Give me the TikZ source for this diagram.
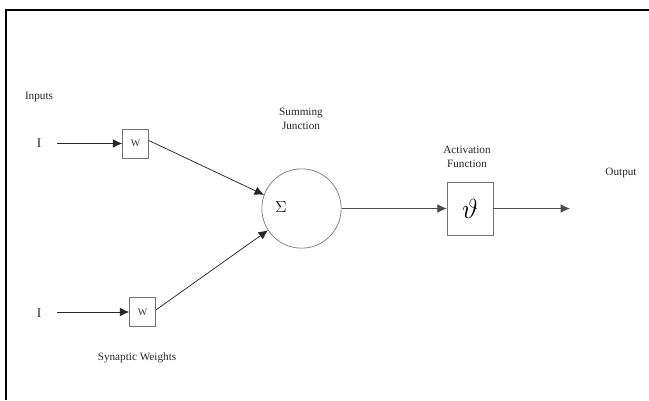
\documentclass[tikz,border=0pt]{standalone}
\usepackage{fontspec}
\setmainfont{Liberation Serif}
\usetikzlibrary{arrows.meta}
\begin{document}
\begin{tikzpicture}[x=0.75pt,y=-0.75pt,
  lbl/.style={font=\fontsize{8.4}{10}\selectfont, text=black!85, inner sep=0pt, align=center},
  wbox/.style={draw=black!55, line width=0.5pt, minimum width=19.5pt, minimum height=22pt, inner sep=0pt, font=\fontsize{7.5}{9}\selectfont, text=black!80},
  tip/.style={-{Latex[length=7pt,width=6.5pt]}},
  conn/.style={draw=black!85, line width=0.55pt, tip},
  plain/.style={draw=black!70, line width=0.55pt, tip}]
\useasboundingbox (0,0) rectangle (649,400);
\draw[line width=1.6pt] (6,400) -- (6,10) -- (649,10);
% labels
\node[lbl] (inputs) at (39,97) {Inputs};
\node[lbl, font=\fontsize{10}{12}\selectfont] (i1) at (39,143) {I};
\node[lbl, font=\fontsize{10}{12}\selectfont] (i2) at (39,313) {I};
\node[lbl] (syn) at (137,358) {Synaptic Weights};
\node[lbl] (sum) at (301,119) {Summing\\Junction};
\node[lbl] (act) at (467,157) {Activation\\Function};
\node[lbl] (out) at (621,173) {Output};
% weight boxes
\node[wbox] (w1) at (135.5,143.5) {\raisebox{-2pt}{W}};
\node[wbox] (w2) at (142.5,312) {W};
% summing junction
\node[draw=black!55, line width=0.5pt, circle, minimum size=59.5pt, inner sep=0pt] (sigma) at (301.5,208.5) {};
\node[inner sep=0pt, font=\fontsize{13}{14}\selectfont] (sigsym) at (281,207) {$\Sigma$};
% activation box
\node[draw=black!55, line width=0.5pt, minimum width=34.5pt, minimum height=40pt, inner sep=0pt] (f) at (470,208.5) {\fontsize{21}{22}\selectfont$\vartheta$};
\coordinate (o) at (570,208.5);
\coordinate (s1) at (57,143.5);
\coordinate (s2) at (57,312);
% connectors
\draw[conn] (s1) -- (w1.west);
\draw[conn] (s2) -- (w2.west);
\draw[conn] (w1.east) ++(0,-3) -- (sigma.160);
\draw[conn] (w2.east) ++(0,-2) -- (sigma.213);
\draw[plain] (sigma.east) -- (f.west);
\draw[plain] (f.east) -- (o);
\end{tikzpicture}
\end{document}
